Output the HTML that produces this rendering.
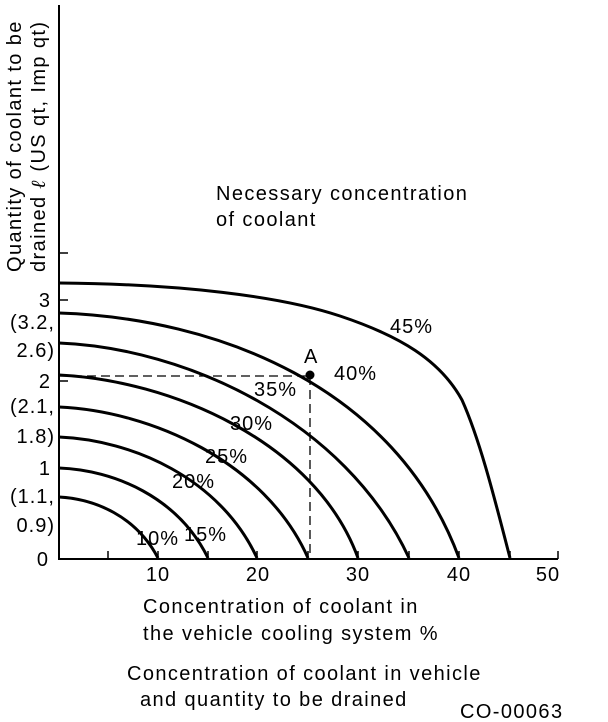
<!DOCTYPE html>
<html><head><style>
body{margin:0;background:#fff;}
svg{display:block;font-family:"Liberation Sans",Arial,sans-serif;}
</style></head><body>
<svg width="608" height="722" viewBox="0 0 608 722" xmlns="http://www.w3.org/2000/svg">
<g stroke="#000" fill="none">
<line x1="59" y1="5" x2="59" y2="559" stroke-width="2"/>
<line x1="58" y1="559" x2="558" y2="559" stroke-width="2"/>
<g stroke-width="1.5">
<line x1="59" y1="253" x2="68" y2="253"/>
<line x1="59" y1="300" x2="68" y2="300"/>
<line x1="59" y1="381" x2="68" y2="381"/>
<line x1="108" y1="559" x2="108" y2="551"/>
<line x1="158" y1="559" x2="158" y2="551"/>
<line x1="208" y1="559" x2="208" y2="551"/>
<line x1="257" y1="559" x2="257" y2="551"/>
<line x1="308" y1="559" x2="308" y2="551"/>
<line x1="358" y1="559" x2="358" y2="551"/>
<line x1="409" y1="559" x2="409" y2="551"/>
<line x1="459" y1="559" x2="459" y2="551"/>
<line x1="510" y1="559" x2="510" y2="551"/>
<line x1="558" y1="559" x2="558" y2="551"/>
</g>
<g stroke-width="3">
<path d="M59,283 C180,284 280,296 340,316 C400,336 440,360 462,400 C480,440 495,500 510,558"/>
<path d="M59,313 C215,318 395,385 459,558"/>
<path d="M59,343 C185,348 345,420 409,558"/>
<path d="M59,375 C150,380 260,440 308,558" transform="translate(50,0) scale(1,1)" style="display:none"/>
<path d="M59,375 C168,380 315,440 358,558"/>
<path d="M59,407 C150,411 265,461 308,558"/>
<path d="M59,437 C132,440 220,478 257,558"/>
<path d="M59,468 C114,470 178,497 208,558"/>
<path d="M59,497 C95,499 136,516 158,558"/>
</g>
<g stroke-width="1.3" stroke-dasharray="9,5">
<line x1="59" y1="376" x2="310" y2="376"/>
<line x1="310" y1="376" x2="310" y2="559"/>
</g>
</g>
<circle cx="310" cy="375" r="4.5" fill="#000"/>
<g font-size="20" fill="#000" letter-spacing="1">
<text x="304" y="363">A</text>
<text x="390" y="333">45%</text>
<text x="334" y="380">40%</text>
<text x="254" y="396">35%</text>
<text x="230" y="430">30%</text>
<text x="205" y="463">25%</text>
<text x="172" y="488">20%</text>
<text x="184" y="541">15%</text>
<text x="136" y="545">10%</text>
<g text-anchor="end">
<text x="51" y="307">3</text>
<text x="55" y="329">(3.2,</text>
<text x="55" y="357">2.6)</text>
<text x="51" y="388">2</text>
<text x="55" y="413">(2.1,</text>
<text x="55" y="443">1.8)</text>
<text x="51" y="475">1</text>
<text x="55" y="503">(1.1,</text>
<text x="55" y="532">0.9)</text>
<text x="49" y="566">0</text>
</g>
<g text-anchor="middle">
<text x="158" y="581">10</text>
<text x="258" y="581">20</text>
<text x="358" y="581">30</text>
<text x="459" y="581">40</text>
<text x="548" y="581">50</text>
</g>
<g letter-spacing="1.4">
<text x="216" y="200">Necessary concentration</text>
<text x="216" y="226">of coolant</text>
<text x="143" y="613">Concentration of coolant in</text>
<text x="143" y="640">the vehicle cooling system %</text>
<text x="127" y="680">Concentration of coolant in vehicle</text>
<text x="140" y="706">and quantity to be drained</text>
<text x="460" y="718">CO-00063</text>
<text transform="translate(21,272) rotate(-90)">Quantity of coolant to be</text>
<text transform="translate(45,272) rotate(-90)">drained <tspan font-style="italic" font-weight="bold" font-family="Liberation Serif">ℓ</tspan> (US qt, Imp qt)</text>
</g>
</g>
</svg>
</body></html>
